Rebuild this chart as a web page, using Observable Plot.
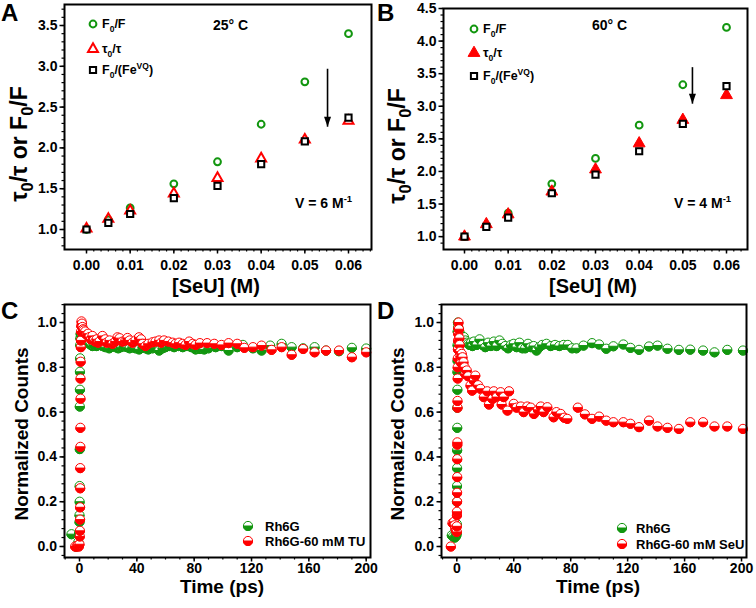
<!DOCTYPE html>
<html><head><meta charset="utf-8">
<script src="https://cdn.jsdelivr.net/npm/d3@7"></script>
<script src="https://cdn.jsdelivr.net/npm/@observablehq/plot@0.6"></script>
<style>
body{margin:0;background:#fff;}
#fig{position:relative;width:756px;height:608px;overflow:hidden;background:#fff;}
#fig > svg{position:absolute;}
</style></head><body><div id="fig"></div>
<script>
// ---------------- DATA ----------------
const conc = [0, 0.005, 0.01, 0.02, 0.03, 0.04, 0.05, 0.06];
// Panel A (25 °C)
const f0fA  = [1.0, 1.118, 1.265, 1.56, 1.83, 2.29, 2.81, 3.40];
const tauA  = [1.01, 1.13, 1.23, 1.44, 1.63, 1.87, 2.10, 2.33];
const feA   = [1.0, 1.08, 1.19, 1.385, 1.535, 1.80, 2.08, 2.37];
// Panel B (60 °C)
const f0fB  = [1.0, 1.17, 1.36, 1.81, 2.20, 2.71, 3.33, 4.21];
const tauB  = [1.0, 1.19, 1.34, 1.69, 2.03, 2.43, 2.79, 3.17];
const feB   = [1.0, 1.15, 1.29, 1.665, 1.95, 2.31, 2.73, 3.31];
// arrows (annotation)
const arrowA = [{x: 0.0552, y1: 2.97, y2: 2.26}];
const arrowB = [{x: 0.0522, y1: 3.60, y2: 3.04}];
// Panel C  [time ps, normalized counts]
const rh6gC = [[-5.6,0.055],[-2.5,0.0],[-1.5,0.005],[-0.8,0.02],[-0.3,0.06],[0,0.11],[0,0.14],[0.1,0.20],[0.1,0.27],[0.2,0.435],[0.2,0.625],[0.3,0.70],[0.3,0.78],[0.4,0.84],[0.5,0.9],
 [0.6,0.93],[0.8,0.95],[1,0.95],[1.5,0.94],[2,0.93],[3,0.925],[4,0.915],[5,0.92],[6,0.91],[7,0.905],[8,0.9],[9,0.895],[10,0.9],[12,0.895],[14,0.9],[16,0.895],[18,0.89],[20.7,0.885],
 [23,0.895],[25,0.89],[27,0.885],[29,0.89],[31,0.895],[33,0.89],[35,0.885],[37,0.89],[39,0.885],[41.6,0.88],[44,0.89],[46,0.885],[48,0.88],[51,0.885],[53,0.89],[55.6,0.875],[58,0.885],
 [60,0.89],[63,0.895],[66,0.89],[69,0.895],[72,0.89],[75,0.895],[78,0.89],[81,0.88],[84,0.882],[87,0.88],[90,0.885],[95,0.89],[99,0.895],[104,0.875],[110,0.89],[114,0.9],[121,0.885],
 [127,0.875],[133,0.897],[141,0.905],[148,0.89],[156,0.885],[164,0.89],[172,0.875],[181,0.872],[190,0.887],[200,0.884]];
const tuC = [[-3,0.0],[-2,0.0],[-1.2,0.005],[-0.5,0.0],[0,0.01],[0.2,0.045],[0.3,0.07],[0.4,0.12],[0.4,0.175],[0.5,0.26],[0.5,0.35],[0.6,0.445],[0.6,0.53],[0.7,0.66],[0.7,0.75],
 [0.8,0.825],[0.9,0.89],[1.0,0.92],[1.1,0.96],[1.2,0.985],[1.4,1.005],[1.7,0.995],[2,0.98],[2.5,0.97],[3,0.965],[3.5,0.955],[4,0.96],[5,0.945],[6,0.95],[7,0.935],[8,0.925],[9,0.94],
 [10,0.92],[11,0.915],[12,0.925],[13,0.91],[14,0.915],[16,0.94],[18,0.925],[19,0.91],[21,0.92],[23,0.905],[25,0.915],[26.5,0.934],[28,0.93],[30,0.915],[32,0.92],[33.5,0.931],[35,0.92],
 [37,0.91],[39,0.92],[41.5,0.934],[43,0.925],[44,0.905],[46,0.895],[48,0.905],[51,0.912],[53,0.915],[55.6,0.92],[57,0.91],[59,0.92],[62,0.915],[65,0.91],[67,0.905],[69.5,0.91],[72,0.905],
 [74,0.9],[76.5,0.915],[79,0.905],[81,0.9],[84,0.908],[89,0.908],[94,0.905],[99,0.9],[104,0.908],[110,0.905],[115,0.887],[121,0.89],[127,0.897],[134,0.878],[141,0.89],[148,0.856],
 [156,0.882],[164,0.867],[172,0.875],[181,0.875],[190,0.845],[200,0.867]];
// Panel D
const rh6gD = [[-3.5,0.05],[-2.5,0.045],[-1.5,0.04],[-0.8,0.045],[-0.3,0.05],[0,0.06],[0,0.1],[0.1,0.2],[0.15,0.27],[0.2,0.35],[0.25,0.43],[0.3,0.53],[0.35,0.62],[0.4,0.70],[0.45,0.78],
 [0.5,0.83],[0.55,0.9],[0.6,0.96],[0.8,1.0],[1,0.98],[1.5,0.965],[2,0.955],[3,0.94],[4,0.93],[5,0.935],[6,0.92],[7,0.91],[8,0.905],[9,0.9],[10,0.91],[11,0.895],[12,0.915],[14,0.9],
 [16,0.925],[18,0.9],[20,0.89],[22,0.91],[24,0.895],[26,0.915],[28,0.895],[30,0.92],[32,0.905],[34,0.895],[36,0.885],[38,0.9],[40,0.905],[42,0.89],[44,0.91],[46,0.885],[48,0.885],
 [50,0.905],[52,0.89],[54,0.895],[56,0.875],[58,0.89],[60,0.9],[63,0.905],[66,0.895],[69,0.9],[72,0.895],[75,0.9],[78,0.9],[81,0.885],[84,0.885],[89,0.897],[95,0.908],[100,0.902],
 [105,0.883],[110,0.894],[117,0.902],[122,0.887],[128,0.878],[135,0.893],[141,0.897],[148,0.883],[156,0.878],[164,0.879],[173,0.875],[181,0.867],[190,0.878],[201,0.875]];
const seuD = [[-4.2,0.0],[-3,0.105],[-2,0.11],[-1.5,0.095],[-1,0.08],[-0.5,0.07],[0,0.065],[0,0.09],[0.1,0.14],[0.1,0.155],[0.2,0.2],[0.2,0.24],[0.3,0.31],[0.3,0.39],[0.4,0.455],
 [0.4,0.465],[0.5,0.62],[0.5,0.65],[0.6,0.75],[0.6,0.8],[0.7,0.84],[0.8,0.88],[0.9,0.92],[1.0,0.95],[1.1,0.975],[1.2,1.0],[1.5,0.97],[1.8,0.93],[2.0,0.9],[2.3,0.87],[2.6,0.85],
 [3,0.82],[3.5,0.86],[4,0.845],[4.7,0.823],[5.5,0.8],[6,0.77],[7,0.786],[8,0.76],[9.6,0.719],[10.8,0.696],[12,0.74],[13,0.763],[15,0.72],[16.7,0.704],[19,0.667],[21.4,0.693],[22.6,0.634],
 [25,0.659],[26,0.693],[28,0.667],[30.8,0.689],[31.5,0.634],[33,0.667],[35.6,0.607],[36.7,0.693],[40,0.637],[42,0.62],[45,0.625],[47,0.6],[49.5,0.625],[52,0.62],[54.2,0.592],[57,0.61],
 [59,0.625],[61,0.6],[63.6,0.622],[68,0.577],[70,0.6],[73,0.592],[75.5,0.575],[77.6,0.57],[85,0.62],[90,0.59],[95,0.57],[100,0.58],[105,0.562],[110,0.555],[117,0.555],[122,0.548],
 [128,0.533],[135,0.562],[141,0.536],[148,0.53],[156,0.525],[164,0.555],[173,0.555],[181,0.536],[190,0.536],[201,0.525]];
// ticks
const xTicksAB = [0, 0.01, 0.02, 0.03, 0.04, 0.05, 0.06];
const yTicksA = [1.0, 1.5, 2.0, 2.5, 3.0, 3.5];
const yTicksB = [1.0, 1.5, 2.0, 2.5, 3.0, 3.5, 4.0, 4.5];
const timeTicks = [0, 40, 80, 120, 160, 200];
const countTicks = [0, 0.2, 0.4, 0.6, 0.8, 1.0];
// texts
const panelLetters = ["A", "B", "C", "D"];
const legendAB = [[["F"],["0","sub"],["/F"]], [["τ"],["0","sub"],["/τ"]], [["F"],["0","sub"],["/(Fe"],["VQ","sup"],[")"]]];
const tempLabels = ["25° C", "60° C"];
const vLabels = [[["V = 6 M"],["-1","sup"]], [["V = 4 M"],["-1","sup"]]];
const yTitleAB = [["τ"],["0","sub"],["/τ or F"],["0","sub"],["/F"]];
const xTitleAB = "[SeU] (M)";
const yTitleCD = "Normalized Counts";
const xTitleCD = "Time (ps)";
const legendC = ["Rh6G", "Rh6G-60 mM TU"];
const legendD = ["Rh6G", "Rh6G-60 mM SeU"];

// ---------------- STYLE ----------------
const FONT = "'Liberation Sans', Arial, Helvetica, sans-serif";
const GREEN = "#12960f";
const RED = "#ff0000";
const fig = document.getElementById("fig");

function range(a, b, step) { const out = []; const n = Math.round((b - a) / step); for (let i = 0; i <= n; i++) out.push(+(a + i * step).toFixed(6)); return out; }

const lowerHalf = {draw(ctx, size) { const r = Math.sqrt(size / Math.PI); ctx.moveTo(r, 0); ctx.arc(0, 0, r, 0, Math.PI); ctx.closePath(); }};
const arrowHead = {draw(ctx) { ctx.moveTo(0, 0); ctx.lineTo(-3.5, -10); ctx.lineTo(3.5, -10); ctx.closePath(); }};

function rich(svg, x, y, segs, size, opts = {}) {
  const t = d3.select(svg).append("text").attr("x", x).attr("y", y)
    .attr("font-size", size).attr("font-weight", "bold").attr("font-family", FONT)
    .attr("fill", "black").attr("text-anchor", opts.anchor || "start");
  if (opts.rotate) t.attr("transform", `rotate(-90 ${x} ${y})`);
  let shift = 0;
  const subScale = opts.subScale || 0.68;
  for (const [s, mode] of segs) {
    let target = 0, fs = size;
    if (mode === "sub") { target = size * 0.28; fs = size * subScale; }
    if (mode === "sup") { target = -size * 0.42; fs = size * subScale; }
    t.append("tspan").attr("dy", target - shift).attr("font-size", fs).text(s);
    shift = target;
  }
  return t;
}

function halfRows(pairs, color) {
  return pairs.flatMap(([t, v]) => [{t, v, part: "top", color}, {t, v, part: "bot", color}]);
}
function halfDots(pairs, color) {
  return Plot.dot(halfRows(pairs, color), {x: "t", y: "v", r: 4.6,
    symbol: d => d.part === "top" ? d3.symbolCircle : lowerHalf,
    fill: d => d.part === "top" ? "white" : d.color, stroke: d => d.color, strokeWidth: 1});
}

function panel(o) {
  const svg = Plot.plot({
    width: o.width, height: o.height,
    marginLeft: o.ml, marginRight: o.mr, marginTop: o.mt, marginBottom: o.mb,
    x: {domain: o.xDomain}, y: {domain: o.yDomain},
    style: {fontFamily: FONT, fontSize: "14px", fontWeight: "bold", color: "black", background: "transparent", overflow: "visible"},
    marks: [
      ...o.marks,
      Plot.axisX({ticks: o.xMinor, tickSize: 2.5, tickFormat: () => "", label: null, strokeWidth: 1.2}),
      Plot.axisX({ticks: o.xTicks, tickSize: 4.5, tickPadding: o.xPad, tickFormat: o.xFmt, label: null, strokeWidth: 1.5}),
      Plot.axisY({ticks: o.yMinor, tickSize: 2.5, tickFormat: () => "", label: null, strokeWidth: 1.2}),
      Plot.axisY({ticks: o.yTicks, tickSize: 4.5, tickPadding: o.yPad, tickFormat: o.yFmt, label: null, strokeWidth: 1.5}),
      Plot.frame({stroke: "black", strokeWidth: 2})
    ]
  });
  svg.style.left = o.left + "px"; svg.style.top = o.top + "px";
  fig.appendChild(svg);
  return svg;
}

const rowsOf = (ys) => conc.map((c, i) => ({c, v: ys[i]}));

function abMarks(f0f, tau, fe, arrow, filledTri) {
  return [
    Plot.dot(rowsOf(f0f), {x: "c", y: "v", r: 3.4, stroke: GREEN, strokeWidth: 2, fill: "none"}),
    Plot.dot(rowsOf(tau), filledTri
      ? {x: "c", y: "v", symbol: "triangle", r: 4.4, fill: RED, stroke: RED, strokeWidth: 1}
      : {x: "c", y: "v", symbol: "triangle", r: 3.7, fill: "none", stroke: RED, strokeWidth: 2}),
    Plot.dot(rowsOf(fe), {x: "c", y: "v", symbol: "square", r: 3.5, fill: "white", stroke: "black", strokeWidth: 2}),
    Plot.link(arrow, {x1: "x", x2: "x", y1: "y1", y2: "y2", stroke: "black", strokeWidth: 1.6}),
    Plot.dot(arrow, {x: "x", y: "y2", symbol: arrowHead, fill: "black", stroke: "none"})
  ];
}

// ---- Panel A ----
const svgA = panel({left: 0, top: 0, width: 376, height: 300, ml: 64, mr: 5, mt: 4, mb: 51,
  xDomain: [-0.005038, 0.065267], yDomain: [0.7549, 3.7574],
  xTicks: xTicksAB, xMinor: range(0, 0.065, 0.01 / 6), yTicks: yTicksA, yMinor: range(0.8, 3.7, 0.1),
  xFmt: d3.format(".2f"), yFmt: d3.format(".1f"), xPad: 6, yPad: 2.5,
  marks: abMarks(f0fA, tauA, feA, arrowA, false)});
// ---- Panel B ----
const svgB = panel({left: 376, top: 0, width: 380, height: 300, ml: 67, mr: 9, mt: 8, mb: 51,
  xDomain: [-0.004809, 0.064809], yDomain: [0.8022, 4.5],
  xTicks: xTicksAB, xMinor: range(0, 0.064, 0.01 / 6), yTicks: yTicksB, yMinor: range(0.9, 4.5, 0.1),
  xFmt: d3.format(".2f"), yFmt: d3.format(".1f"), xPad: 6, yPad: 2.5,
  marks: abMarks(f0fB, tauB, feB, arrowB, true)});
// ---- Panel C ----
const svgC = panel({left: 0, top: 300, width: 376, height: 308, ml: 64, mr: 6, mt: 4, mb: 51,
  xDomain: [-10.464, 203.0], yDomain: [-0.0491, 1.0804],
  xTicks: timeTicks, xMinor: range(-10, 200, 10), yTicks: countTicks, yMinor: range(-0.04, 1.08, 0.04),
  xFmt: d3.format("d"), yFmt: d3.format(".1f"), xPad: 1.5, yPad: 3,
  marks: [halfDots(rh6gC, GREEN), halfDots(tuC, RED)]});
// ---- Panel D ----
const svgD = panel({left: 376, top: 300, width: 380, height: 308, ml: 65, mr: 10, mt: 4, mb: 51,
  xDomain: [-10.748, 203.5], yDomain: [-0.0491, 1.0804],
  xTicks: timeTicks, xMinor: range(-10, 200, 10), yTicks: countTicks, yMinor: range(-0.04, 1.08, 0.04),
  xFmt: d3.format("d"), yFmt: d3.format(".1f"), xPad: 1.5, yPad: 3,
  marks: [halfDots(rh6gD, GREEN), halfDots(seuD, RED)]});

// ---------------- ANNOTATIONS ----------------
// panel letters
[[svgA, 1, 21], [svgB, 1, 21], [svgC, 1, 19], [svgD, 1, 19]].forEach(([s, x, y], i) =>
  rich(s, x, y, [[panelLetters[i]]], 24));

// legends A / B
function abLegend(svg, sx, tx, ys, filledTri) {
  const g = d3.select(svg);
  g.append("circle").attr("cx", sx).attr("cy", ys[0]).attr("r", 3.4).attr("fill", "none").attr("stroke", GREEN).attr("stroke-width", 2);
  g.append("path").attr("transform", `translate(${sx},${ys[1]})`)
    .attr("d", d3.symbol(d3.symbolTriangle, (filledTri ? 4.4 : 3.7) ** 2 * Math.PI)())
    .attr("fill", filledTri ? RED : "none").attr("stroke", RED).attr("stroke-width", filledTri ? 1 : 2);
  g.append("path").attr("transform", `translate(${sx},${ys[2]})`)
    .attr("d", d3.symbol(d3.symbolSquare, 3.5 ** 2 * Math.PI)())
    .attr("fill", "white").attr("stroke", "black").attr("stroke-width", 2);
  legendAB.forEach((segs, i) => rich(svg, tx, ys[i] + 4.3, segs, 12.5));
}
abLegend(svgA, 93, 102, [24, 49, 70], false);
abLegend(svgB, 98, 107, [29, 53, 76], true);
rich(svgA, 213, 30, [[tempLabels[0]]], 14);
rich(svgB, 216, 30, [[tempLabels[1]]], 14);
rich(svgA, 295, 208, vLabels[0], 14);
rich(svgB, 298, 208, vLabels[1], 14);

// axis titles
rich(svgA, 27, 144, yTitleAB, 23, {anchor: "middle", rotate: true, subScale: 0.72});
rich(svgB, 29, 146, yTitleAB, 23, {anchor: "middle", rotate: true, subScale: 0.72});
rich(svgA, 216, 293, [[xTitleAB]], 20, {anchor: "middle"});
rich(svgB, 217, 293, [[xTitleAB]], 20, {anchor: "middle"});
rich(svgC, 28, 134, [[yTitleCD]], 19, {anchor: "middle", rotate: true});
rich(svgD, 28, 134, [[yTitleCD]], 19, {anchor: "middle", rotate: true});
rich(svgC, 222, 293, [[xTitleCD]], 19, {anchor: "middle"});
rich(svgD, 222, 293, [[xTitleCD]], 19, {anchor: "middle"});

// legends C / D
function cdLegend(svg, sx, tx, ys, labels) {
  const g = d3.select(svg);
  [GREEN, RED].forEach((col, i) => {
    g.append("circle").attr("cx", sx).attr("cy", ys[i]).attr("r", 4.6).attr("fill", "white").attr("stroke", col);
    g.append("path").attr("transform", `translate(${sx},${ys[i]})`).attr("d", d3.symbol(lowerHalf, 4.6 ** 2 * Math.PI)()).attr("fill", col).attr("stroke", col);
    rich(svg, tx, ys[i] + 4.6, [[labels[i]]], 13);
  });
}
cdLegend(svgC, 248, 265, [226, 241], legendC);
cdLegend(svgD, 246, 260, [228, 244], legendD);
</script></body></html>
